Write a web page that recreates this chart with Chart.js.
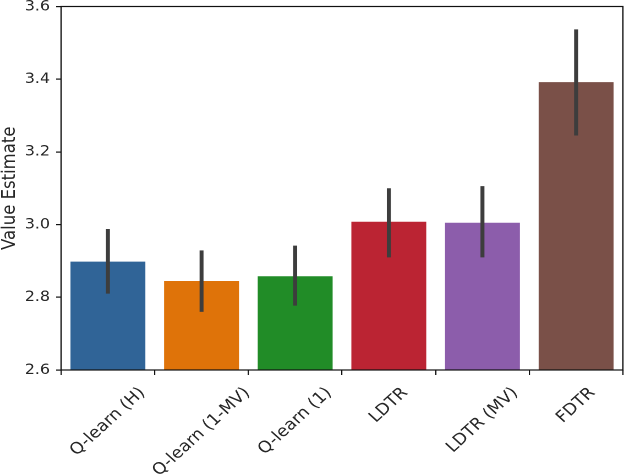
<!DOCTYPE html>
<html>
<head>
<meta charset="utf-8">
<script src="https://cdn.jsdelivr.net/npm/chart.js@4.4.1/dist/chart.umd.min.js"></script>
<style>
  html, body { margin: 0; padding: 0; background: #ffffff; overflow: hidden; }
  #wrap { width: 624px; height: 476px; }
</style>
</head>
<body>
<div id="wrap"><canvas id="c" width="567" height="476" style="width:624px;height:476px;display:block;"></canvas></div>
<script>
const categories = ["Q-learn (H)", "Q-learn (1-MV)", "Q-learn (1)", "LDTR", "LDTR (MV)", "FDTR"];
const means = [2.898, 2.845, 2.858, 3.008, 3.005, 3.392];
const ciLow = [2.810, 2.760, 2.777, 2.910, 2.910, 3.245];
const ciHigh = [2.988, 2.929, 2.942, 3.100, 3.106, 3.537];
const barColors = ["#306497", "#df7309", "#218c27", "#bb2433", "#8c5dab", "#7a5048"];
const yTicks = [2.6, 2.8, 3.0, 3.2, 3.4, 3.6];

const FONT = "DejaVu Sans";

const errorBars = {
  id: 'errorBars',
  afterDatasetsDraw(chart) {
    const ctx = chart.ctx;
    const xs = chart.scales.x, ys = chart.scales.y;
    ctx.save();
    ctx.strokeStyle = '#3d3d3d';
    ctx.lineWidth = 3.6;
    ctx.lineCap = 'butt';
    for (let i = 0; i < categories.length; i++) {
      const x = xs.getPixelForValue(i);
      ctx.beginPath();
      ctx.moveTo(x, ys.getPixelForValue(ciLow[i]));
      ctx.lineTo(x, ys.getPixelForValue(ciHigh[i]));
      ctx.stroke();
    }
    ctx.restore();
  }
};

const frameAndLabels = {
  id: 'frameAndLabels',
  afterDraw(chart) {
    const ctx = chart.ctx;
    const a = chart.chartArea;
    const xs = chart.scales.x;
    ctx.save();
    ctx.strokeStyle = '#111111';
    ctx.lineWidth = 1.2;
    ctx.strokeRect(a.left, a.top, a.right - a.left, a.bottom - a.top);
    // rotated, centered x labels
    const fs = 16;
    ctx.font = fs + 'px "' + FONT + '"';
    ctx.fillStyle = '#262626';
    ctx.textAlign = 'center';
    ctx.textBaseline = 'middle';
    const top = a.bottom + 14.5;
    for (let i = 0; i < categories.length; i++) {
      const x = xs.getPixelForValue(i);
      const w = ctx.measureText(categories[i]).width;
      const h = fs * 1.05;
      const half = (w + h) * Math.SQRT1_2 / 2;
      ctx.save();
      ctx.translate(x, top + half);
      ctx.rotate(-Math.PI / 4);
      ctx.fillText(categories[i], 0, 0);
      ctx.restore();
    }
    ctx.restore();
  }
};

new Chart(document.getElementById('c'), {
  type: 'bar',
  data: {
    labels: categories,
    datasets: [{
      data: means,
      backgroundColor: barColors,
      borderWidth: 0,
      barPercentage: 0.8,
      categoryPercentage: 1.0
    }]
  },
  options: {
    responsive: false,
    devicePixelRatio: 2,
    animation: false,
    events: [],
    layout: { padding: { top: 6.5, right: 1, left: 0, bottom: 0 } },
    plugins: { legend: { display: false }, tooltip: { enabled: false } },
    scales: {
      x: {
        grid: { display: true, drawOnChartArea: false, drawTicks: true, tickLength: 5, color: '#111111', lineWidth: 1.1 },
        border: { display: false },
        ticks: { display: false },
        afterFit(scale) { scale.height = 106; scale.paddingLeft = 0; scale.paddingRight = 0; }
      },
      y: {
        min: 2.6,
        max: 3.6,
        beginAtZero: false,
        afterBuildTicks(scale) { scale.ticks = yTicks.map(v => ({ value: v })); },
        grid: { display: true, drawOnChartArea: false, drawTicks: true, tickLength: 4.5, color: '#111111', lineWidth: 1.2 },
        border: { display: false },
        ticks: {
          padding: 5.5,
          color: '#262626',
          font: { family: FONT, size: 14.5 },
          callback: (v) => Number(v).toFixed(1)
        },
        title: {
          display: true,
          text: 'Value Estimate',
          color: '#262626',
          font: { family: FONT, size: 16.5, lineHeight: 0.9 },
          padding: { top: 1.8, bottom: 0 }
        },
        afterFit(scale) { scale.width = 55.5; scale.paddingTop = 0; scale.paddingBottom = 0; }
      }
    }
  },
  plugins: [errorBars, frameAndLabels]
});
</script>
</body>
</html>
